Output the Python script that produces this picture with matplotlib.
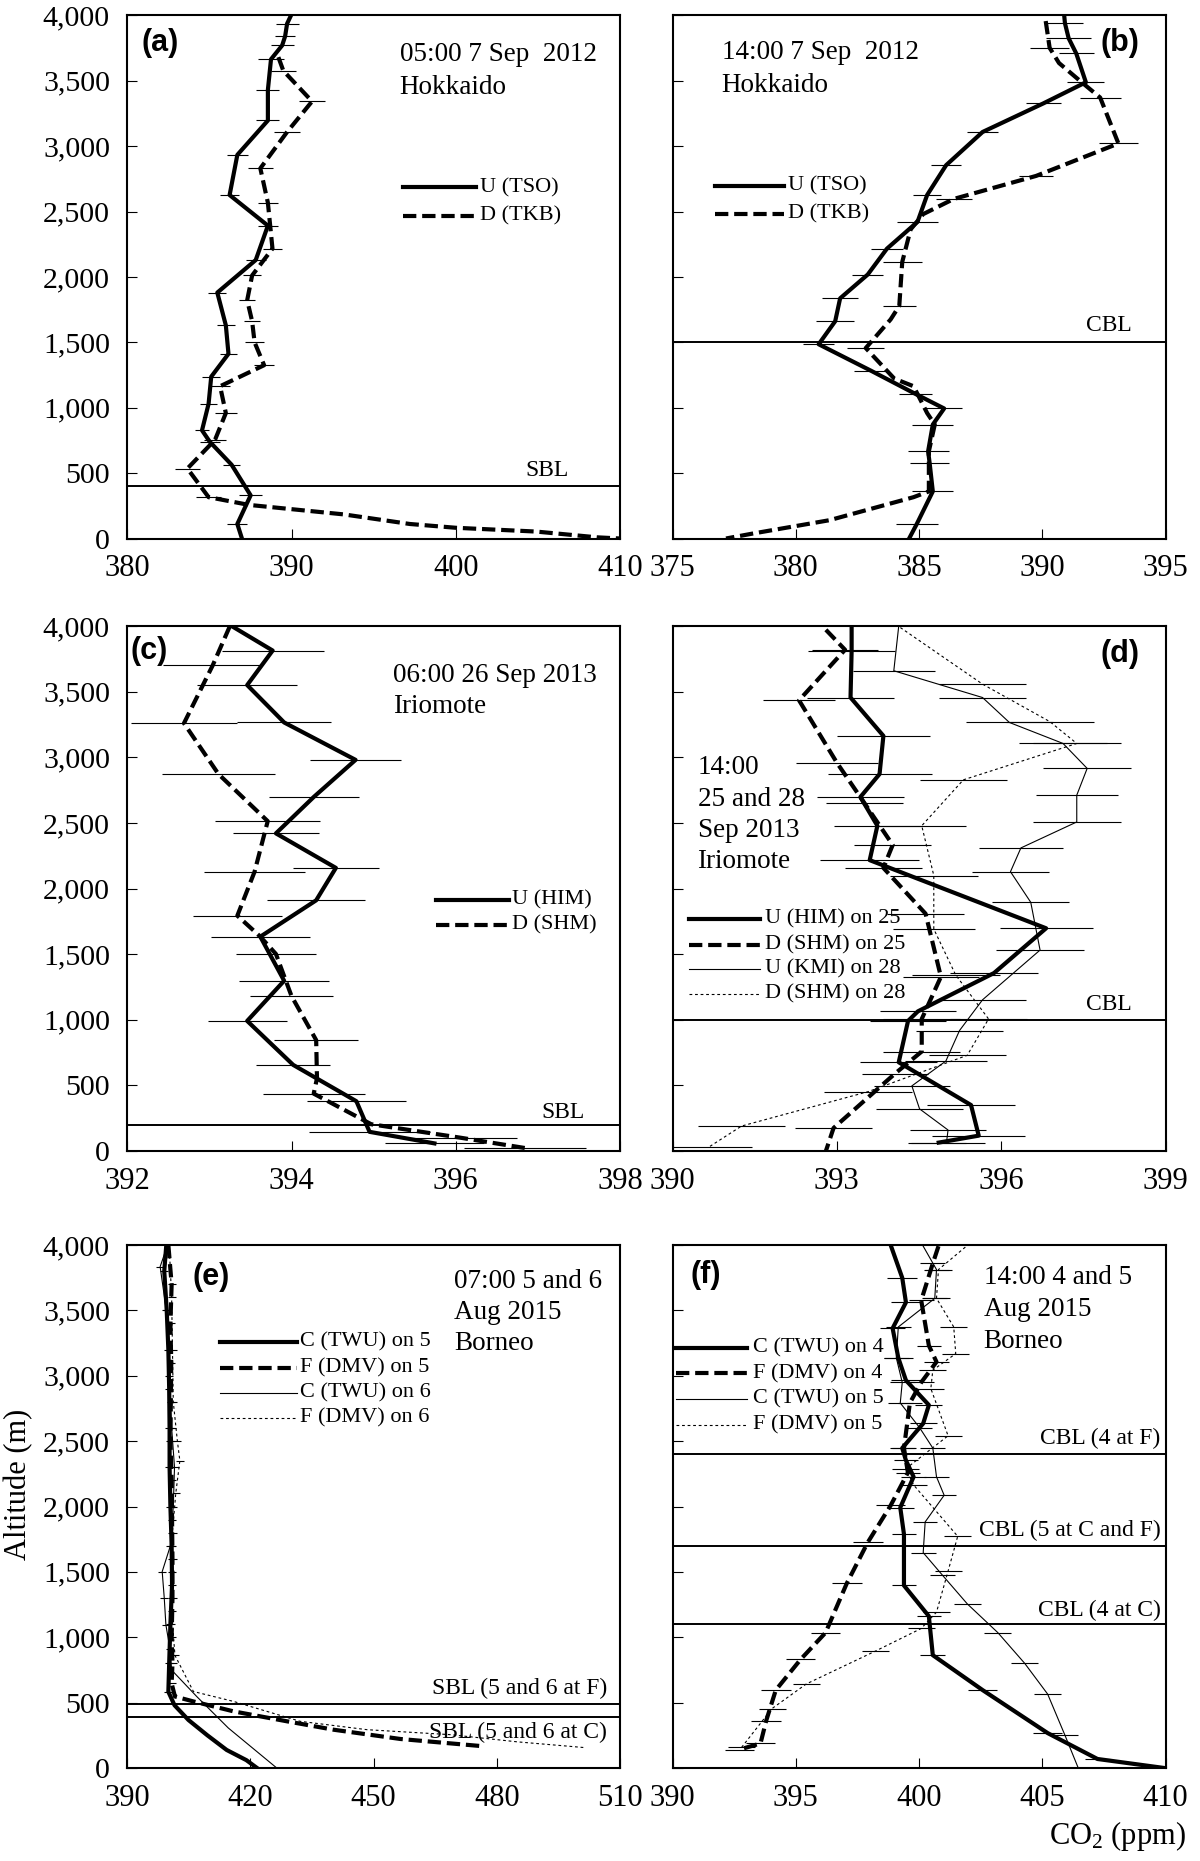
import matplotlib
matplotlib.use('Agg')
import matplotlib.pyplot as plt
from matplotlib.lines import Line2D

plt.rcParams['font.family'] = ['Liberation Serif', 'DejaVu Serif']
plt.rcParams['mathtext.fontset'] = 'custom'
plt.rcParams['mathtext.rm'] = 'Liberation Serif'
plt.rcParams['mathtext.it'] = 'Liberation Serif:italic'

# ---------------- data ----------------
y_ticks = [0, 500, 1000, 1500, 2000, 2500, 3000, 3500, 4000]
y_tick_labels = ['0', '500', '1,000', '1,500', '2,000', '2,500', '3,000', '3,500', '4,000']

# (a) 05:00 7 Sep 2012 Hokkaido
a_xticks = [380, 390, 400, 410]
a_u_alt = [4000, 3936, 3840, 3770, 3664, 3430, 3196, 2933, 2626, 2392, 2129, 1880, 1630, 1412, 1237, 1030, 827, 740, 564, 330, 111, 0]
a_u_co2 = [389.97, 389.73, 389.61, 389.43, 388.75, 388.56, 388.56, 386.70, 386.23, 388.56, 387.82, 385.48, 386.00, 386.16, 385.11, 384.95, 384.55, 385.02, 386.35, 387.51, 386.70, 386.98]
a_u_err = [0, 0.7, 0.6, 0.7, 0.8, 0.7, 0.7, 0.65, 0.6, 0.6, 0.6, 0.55, 0.55, 0.5, 0.55, 0.5, 0.4, 0.6, 0.5, 0.7, 0.6, 0]
a_d_alt = [3680, 3576, 3342, 3108, 2830, 2567, 2216, 2011, 1822, 1661, 1500, 1325, 1164, 959, 754, 535, 316, 257, 184, 111, 82, 53, 9, 0]
a_d_co2 = [389.2, 389.5, 391.25, 389.73, 388.1, 388.56, 388.84, 387.6, 387.3, 387.6, 387.75, 388.33, 385.65, 386.0, 385.34, 383.66, 384.95, 387.4, 393.2, 397.2, 400.0, 404.9, 408.6, 410.0]
a_d_err = [0, 0.75, 0.8, 0.8, 0.75, 0.6, 0.55, 0.55, 0.5, 0.5, 0.6, 0.6, 0.6, 0.65, 0.7, 0.78, 0.75, 0, 0, 0, 0, 0, 0, 0]
a_layers = [400]

# (b) 14:00 7 Sep 2012 Hokkaido
b_xticks = [375, 380, 385, 390, 395]
b_u_alt = [4000, 3940, 3825, 3708, 3488, 3327, 3108, 2854, 2626, 2421, 2216, 2018, 1836, 1661, 1485, 1281, 1105, 994, 871, 667, 579, 360, 111, 0]
b_u_co2 = [390.89, 390.92, 391.07, 391.38, 391.77, 390.05, 387.58, 386.10, 385.33, 384.94, 383.70, 382.92, 381.80, 381.60, 380.93, 383.07, 384.86, 386.02, 385.56, 385.37, 385.43, 385.56, 384.91, 384.60]
b_u_err = [0, 0.72, 0.9, 0.7, 0.75, 0.7, 0.62, 0.62, 0.58, 0.85, 0.65, 0.62, 0.72, 0.78, 0.64, 0.7, 0.67, 0.72, 0.83, 0.83, 0.8, 0.83, 0.85, 0]
b_d_alt = [3956, 3751, 3635, 3488, 3371, 3020, 2772, 2596, 2480, 2363, 2114, 1778, 1675, 1456, 1222, 1164, 959, 871, 667, 360, 316, 140, 38, 0]
b_d_co2 = [390.14, 390.30, 390.68, 391.60, 392.35, 393.09, 389.75, 386.41, 385.17, 384.66, 384.32, 384.20, 383.85, 382.84, 384.00, 384.78, 385.33, 385.64, 385.40, 385.40, 384.78, 381.37, 378.26, 377.17]
b_d_err = [0, 0.8, 0, 0, 0.83, 0.78, 0.7, 0.74, 0, 0, 0.8, 0.68, 0, 0.76, 0, 0, 0, 0, 0, 0, 0, 0, 0, 0]
b_layers = [1500]

# (c) 06:00 26 Sep 2013 Iriomote
c_xticks = [392, 394, 396, 398]
c_u_alt = [4000, 3813, 3550, 3265, 2980, 2697, 2420, 2157, 1910, 1633, 1297, 991, 656, 379, 146, 58]
c_u_co2 = [393.27, 393.77, 393.46, 393.91, 394.78, 394.27, 393.81, 394.54, 394.30, 393.62, 393.91, 393.46, 394.02, 394.79, 394.95, 395.74]
c_u_err = [0, 0.62, 0.61, 0.57, 0.55, 0.55, 0.52, 0.52, 0.6, 0.6, 0.55, 0.48, 0.45, 0.6, 0.74, 0.6]
c_d_alt = [4000, 3700, 3259, 2872, 2513, 2128, 1793, 1633, 1501, 1180, 845, 554, 437, 204, 102, 23]
c_d_co2 = [393.25, 393.04, 392.69, 393.11, 393.71, 393.55, 393.34, 393.62, 393.81, 394.00, 394.30, 394.31, 394.27, 394.97, 396.05, 396.84]
c_d_err = [0, 0.6, 0.65, 0.69, 0.64, 0.61, 0.54, 0, 0.49, 0.5, 0.51, 0, 0.62, 0, 0.7, 0.74]
c_layers = [200]

# (d) 14:00 25 and 28 Sep 2013 Iriomote
d_xticks = [390, 393, 396, 399]
d_u25_alt = [4000, 3810, 3455, 3163, 2872, 2697, 2478, 2216, 1697, 1356, 1064, 991, 676, 350, 117, 64]
d_u25_co2 = [393.27, 393.27, 393.25, 393.85, 393.78, 393.43, 393.74, 393.60, 396.82, 395.87, 394.48, 394.30, 394.13, 395.45, 395.59, 394.86]
d_u25_err = [0, 0.8, 0.8, 0.85, 0.95, 0.8, 0.8, 0.9, 0.85, 0.8, 0.7, 0.7, 0.7, 0.8, 0.85, 0.5]
d_d25_alt = [3971, 3819, 3434, 2959, 2653, 2332, 2157, 1808, 1327, 1006, 758, 589, 175, 0]
d_d25_co2 = [392.80, 393.15, 392.31, 393.00, 393.50, 394.02, 393.85, 394.62, 394.90, 394.55, 394.55, 394.06, 392.94, 392.80]
d_d25_err = [0, 0.6, 0.65, 0.75, 0.7, 0.7, 0.7, 0.7, 0.7, 0.7, 0.7, 0.6, 0.7, 0]
d_u28_alt = [4000, 3659, 3455, 3265, 3105, 2915, 2711, 2507, 2309, 2128, 1895, 1531, 1152, 918, 685, 496, 321, 160, 58]
d_u28_co2 = [394.13, 394.04, 395.66, 396.15, 397.13, 397.57, 397.38, 397.38, 396.36, 396.17, 396.54, 396.71, 395.66, 395.24, 394.99, 394.37, 394.51, 395.03, 395.00]
d_u28_err = [0, 0.75, 0.8, 0.8, 0.8, 0.8, 0.75, 0.8, 0.77, 0.7, 0.7, 0.8, 0.8, 0.8, 0.75, 0.7, 0.8, 0.7, 0.7]
d_d28_alt = [3988, 3557, 3271, 3105, 2828, 2478, 2099, 1691, 1341, 1006, 729, 452, 190, 29]
d_d28_co2 = [394.16, 395.66, 396.89, 397.38, 395.31, 394.55, 394.77, 394.77, 395.17, 395.77, 395.38, 393.57, 391.26, 390.66]
d_d28_err = [0, 0.8, 0.8, 0.8, 0.8, 0.8, 0.8, 0.75, 0.8, 0.7, 0.7, 0.8, 0.8, 0.8]
d_layers = [1000]

# (e) 07:00 5 and 6 Aug 2015 Borneo
e_xticks = [390, 420, 450, 480, 510]
e_c5_alt = [4000, 3800, 3500, 3200, 2900, 2600, 2300, 2000, 1700, 1400, 1100, 800, 583, 480, 367, 250, 138, 60, 0]
e_c5_co2 = [399.5, 399.0, 399.6, 400.0, 400.2, 400.3, 400.3, 400.5, 400.8, 400.9, 400.5, 400.2, 400.0, 401.5, 404.9, 409.5, 414.2, 419.0, 421.6]
e_c5_err = [0, 1.0, 1.0, 1.0, 1.0, 1.0, 1.0, 1.0, 1.0, 1.0, 1.0, 1.0, 1.0, 0, 0, 0, 0, 0, 0]
e_f5_alt = [4000, 3700, 3400, 3100, 2800, 2500, 2200, 1900, 1600, 1300, 1000, 800, 647, 547, 509, 433, 357, 293, 222, 166]
e_f5_co2 = [400.0, 400.8, 400.5, 400.7, 400.6, 400.5, 400.8, 400.9, 401.0, 401.0, 400.8, 401.0, 400.8, 401.6, 406.1, 415.9, 428.9, 440.2, 456.5, 476.8]
e_f5_err = [0, 1.0, 1.0, 1.0, 1.0, 1.0, 1.0, 1.0, 1.0, 1.0, 1.0, 1.0, 1.0, 0, 0, 0, 0, 0, 0, 0]
e_c6_alt = [4000, 3834, 3500, 3000, 2600, 2300, 2000, 1700, 1502, 1300, 1095, 908, 749, 547, 306, 0]
e_c6_co2 = [399.8, 398.0, 399.5, 400.2, 400.8, 401.5, 401.2, 400.5, 398.5, 399.0, 399.4, 400.4, 400.8, 406.9, 414.6, 426.4]
e_c6_err = [0, 1.0, 1.0, 1.0, 1.0, 1.0, 1.0, 1.0, 1.0, 1.0, 1.0, 1.0, 0, 0, 0, 0]
e_f6_alt = [4000, 3600, 3200, 2800, 2500, 2350, 2100, 1800, 1500, 1200, 862, 585, 509, 357, 293, 255, 200, 156]
e_f6_co2 = [400.2, 400.8, 401.0, 401.2, 402.2, 402.8, 401.8, 401.0, 400.8, 400.8, 401.6, 406.1, 415.9, 432.1, 448.4, 468.7, 485.0, 501.4]
e_f6_err = [0, 1.0, 1.0, 1.0, 1.0, 1.0, 1.0, 1.0, 1.0, 1.0, 1.0, 0, 0, 0, 0, 0, 0, 0]
e_layers = [490, 390]

# (f) 14:00 4 and 5 Aug 2015 Borneo
f_xticks = [390, 395, 400, 405, 410]
f_c4_alt = [4000, 3749, 3561, 3363, 3137, 2965, 2776, 2635, 2447, 2353, 2227, 1992, 1788, 1396, 1161, 863, 596, 267, 69, 0]
f_c4_co2 = [398.85, 399.32, 399.47, 398.93, 399.16, 399.47, 400.40, 400.17, 399.32, 399.47, 399.78, 399.24, 399.39, 399.39, 400.40, 400.56, 402.58, 405.22, 407.24, 409.95]
f_c4_err = [0, 0.6, 0.6, 0.5, 0.6, 0.6, 0.55, 0.55, 0.5, 0.5, 0.5, 0.55, 0.5, 0.5, 0.5, 0.5, 0.6, 0.6, 0.5, 0]
f_f4_alt = [3991, 3859, 3576, 3231, 3106, 2949, 2792, 2447, 2259, 2008, 1725, 1412, 1035, 831, 596, 361, 188, 141]
f_f4_co2 = [400.79, 400.56, 400.09, 400.40, 400.71, 400.09, 399.63, 399.39, 399.55, 398.85, 397.92, 397.07, 396.21, 395.20, 394.19, 393.80, 393.57, 392.72]
f_f4_err = [0, 0.5, 0.5, 0.5, 0.5, 0.5, 0.5, 0.5, 0.5, 0.6, 0.6, 0.6, 0.6, 0.6, 0.6, 0.6, 0.6, 0.6]
f_c5_alt = [3991, 3812, 3592, 3373, 3137, 2949, 2792, 2604, 2447, 2227, 2086, 1882, 1647, 1475, 1255, 1035, 800, 565, 251, 0]
f_c5_co2 = [400.17, 400.71, 400.64, 399.16, 399.08, 399.32, 399.24, 400.02, 400.56, 400.71, 401.02, 400.25, 400.17, 400.95, 401.96, 403.20, 404.29, 405.22, 405.92, 406.46]
f_c5_err = [0, 0.5, 0.5, 0.5, 0.5, 0.5, 0.5, 0.5, 0.5, 0.5, 0.5, 0.5, 0.5, 0.5, 0.55, 0.55, 0.55, 0.55, 0.55, 0]
f_f5_alt = [3984, 3812, 3592, 3373, 3169, 3043, 2902, 2541, 2290, 2165, 1772, 1506, 1192, 1067, 894, 643, 455, 157]
f_f5_co2 = [401.88, 400.79, 400.71, 401.41, 401.49, 400.56, 400.48, 401.18, 399.47, 399.78, 401.57, 401.18, 400.71, 400.09, 398.23, 395.43, 394.04, 392.80]
f_f5_err = [0, 0.55, 0.55, 0.55, 0.55, 0.55, 0.55, 0.55, 0.55, 0.55, 0.55, 0.55, 0.55, 0.55, 0.55, 0.55, 0.55, 0.55]
f_layers = [2400, 1700, 1100]

# ---------------- styles / layout ----------------
W, H = 1200, 1861
fig = plt.figure(figsize=(W / 100, H / 100), dpi=100)


def fx(p):
    return p / W


def fy(p):
    return 1 - p / H


STY = {
    'thick': dict(color='k', lw=3.0, ls='-'),
    'thickdash': dict(color='k', lw=3.0, ls=(0, (3.2, 1.4))),
    'thin': dict(color='k', lw=0.8, ls='-'),
    'dot': dict(color='k', lw=0.8, ls=(0, (2.5, 2.5))),
}

cols = [(127.3, 620.0), (672.5, 1165.5)]
rows = [(15.3, 538.5), (626.0, 1151.0), (1245.0, 1768.0)]

XTICK_FS = 22
YTICK_FS = 21.5
ANN_FS = 19.5
LEG_FS = 16
LAY_FS = 17
LAB_FS = 22


def make_ax(col, row, xlim, xticks):
    (x0, x1), (y0, y1) = cols[col], rows[row]
    ax = fig.add_axes([fx(x0), fy(y1), fx(x1) - fx(x0), (y1 - y0) / H])
    ax.set_xlim(*xlim)
    ax.set_ylim(0, 4000)
    ax.set_xticks(xticks)
    ax.set_xticklabels([str(t) for t in xticks])
    ax.set_yticks(y_ticks)
    if col == 0:
        ax.set_yticklabels(y_tick_labels)
    else:
        ax.set_yticklabels([])
    ax.tick_params(axis='both', direction='in', length=7, width=0.8, colors='k')
    ax.tick_params(axis='x', pad=11.5, labelsize=XTICK_FS)
    ax.tick_params(axis='y', pad=12.5, labelsize=YTICK_FS)
    for s in ax.spines.values():
        s.set_linewidth(1.5)
    return ax


def series(ax, co2, alt, err, style):
    ax.errorbar(co2, alt, xerr=err, fmt='none', ecolor='k', elinewidth=0.8,
                capsize=0, zorder=2)
    ax.plot(co2, alt, zorder=3, **STY[style])


def layers(ax, levels):
    for lv in levels:
        ax.axhline(lv, color='k', lw=1.4, zorder=1)


def legend(x0, x1, tx, ys, entries):
    for y, (style, label) in zip(ys, entries):
        fig.add_artist(Line2D([fx(x0), fx(x1)], [fy(y), fy(y)],
                              transform=fig.transFigure, **STY[style]))
        fig.text(fx(tx), fy(y), label, fontsize=LEG_FS, va='center', ha='left')


def annot(x, ys, lines):
    for y, s in zip(ys, lines):
        fig.text(fx(x), fy(y), s, fontsize=ANN_FS, va='baseline', ha='left')


def panel_label(x, y, s):
    fig.text(fx(x), fy(y), s, fontsize=LAB_FS, fontweight='bold',
             family='Liberation Sans', va='center', ha='left')


def layer_text(xr, y, s):
    fig.text(fx(xr), fy(y), s, fontsize=LAY_FS, va='baseline', ha='right')


# (a)
ax = make_ax(0, 0, (380, 410), a_xticks)
layers(ax, a_layers)
series(ax, a_u_co2, a_u_alt, a_u_err, 'thick')
series(ax, a_d_co2, a_d_alt, a_d_err, 'thickdash')
panel_label(141.5, 43, '(a)')
annot(399.6, [61.2, 93.7], ['05:00 7 Sep  2012', 'Hokkaido'])
legend(403.4, 476.0, 480.0, [187.4, 216.1], [('thick', 'U (TSO)'), ('thickdash', 'D (TKB)')])
layer_text(569, 476, 'SBL')

# (b)
ax = make_ax(1, 0, (375, 395), b_xticks)
layers(ax, b_layers)
series(ax, b_u_co2, b_u_alt, b_u_err, 'thick')
series(ax, b_d_co2, b_d_alt, b_d_err, 'thickdash')
panel_label(1101, 43, '(b)')
annot(721.6, [59.3, 91.8], ['14:00 7 Sep  2012', 'Hokkaido'])
legend(714.7, 783.6, 788.0, [186.2, 214.1], [('thick', 'U (TSO)'), ('thickdash', 'D (TKB)')])
layer_text(1131.5, 330.8, 'CBL')

# (c)
ax = make_ax(0, 1, (392, 398), c_xticks)
layers(ax, c_layers)
series(ax, c_u_co2, c_u_alt, c_u_err, 'thick')
series(ax, c_d_co2, c_d_alt, c_d_err, 'thickdash')
panel_label(130, 651.5, '(c)')
annot(393.0, [682.2, 712.8], ['06:00 26 Sep 2013', 'Iriomote'])
legend(436.0, 508.6, 511.5, [900.2, 925.0], [('thick', 'U (HIM)'), ('thickdash', 'D (SHM)')])
layer_text(584.5, 1117.5, 'SBL')

# (d)
ax = make_ax(1, 1, (390, 399), d_xticks)
layers(ax, d_layers)
series(ax, d_u28_co2, d_u28_alt, d_u28_err, 'thin')
series(ax, d_d28_co2, d_d28_alt, d_d28_err, 'dot')
series(ax, d_u25_co2, d_u25_alt, d_u25_err, 'thick')
series(ax, d_d25_co2, d_d25_alt, d_d25_err, 'thickdash')
panel_label(1100, 654.5, '(d)')
annot(697.5, [774.0, 806.5, 837.0, 868.0], ['14:00', '25 and 28', 'Sep 2013', 'Iriomote'])
legend(688.7, 759.8, 765.2, [919.3, 945.0, 969.0, 993.9],
       [('thick', 'U (HIM) on 25'), ('thickdash', 'D (SHM) on 25'),
        ('thin', 'U (KMI) on 28'), ('dot', 'D (SHM) on 28')])
layer_text(1132, 1009.5, 'CBL')

# (e)
ax = make_ax(0, 2, (390, 510), e_xticks)
layers(ax, e_layers)
series(ax, e_c6_co2, e_c6_alt, e_c6_err, 'thin')
series(ax, e_f6_co2, e_f6_alt, e_f6_err, 'dot')
series(ax, e_c5_co2, e_c5_alt, e_c5_err, 'thick')
series(ax, e_f5_co2, e_f5_alt, e_f5_err, 'thickdash')
panel_label(192, 1277, '(e)')
annot(454, [1287.5, 1319.0, 1350.5], ['07:00 5 and 6', 'Aug 2015', 'Borneo'])
legend(219.8, 297.0, 300.0, [1341.7, 1368.0, 1393.3, 1418.3],
       [('thick', 'C (TWU) on 5'), ('thickdash', 'F (DMV) on 5'),
        ('thin', 'C (TWU) on 6'), ('dot', 'F (DMV) on 6')])
layer_text(607, 1694, 'SBL (5 and 6 at F)')
layer_text(607, 1738, 'SBL (5 and 6 at C)')

# (f)
ax = make_ax(1, 2, (390, 410), f_xticks)
layers(ax, f_layers)
series(ax, f_c5_co2, f_c5_alt, f_c5_err, 'thin')
series(ax, f_f5_co2, f_f5_alt, f_f5_err, 'dot')
series(ax, f_c4_co2, f_c4_alt, f_c4_err, 'thick')
series(ax, f_f4_co2, f_f4_alt, f_f4_err, 'thickdash')
panel_label(690.9, 1275, '(f)')
annot(983.6, [1284.0, 1315.5, 1347.5], ['14:00 4 and 5', 'Aug 2015', 'Borneo'])
legend(676.3, 747.0, 752.9, [1347.5, 1373.4, 1398.8, 1424.6],
       [('thick', 'C (TWU) on 4'), ('thickdash', 'F (DMV) on 4'),
        ('thin', 'C (TWU) on 5'), ('dot', 'F (DMV) on 5')])
layer_text(1160.5, 1444, 'CBL (4 at F)')
layer_text(1160.5, 1536, 'CBL (5 at C and F)')
layer_text(1160.5, 1616, 'CBL (4 at C)')

# axis titles
fig.text(fx(19), fy(1484), 'Altitude (m)', rotation=90, fontsize=22,
         va='center', ha='center')
fig.text(fx(1186), fy(1844), r'CO$_\mathrm{2}$ (ppm)', fontsize=22,
         va='baseline', ha='right')

fig.savefig('out.png', dpi=100)
